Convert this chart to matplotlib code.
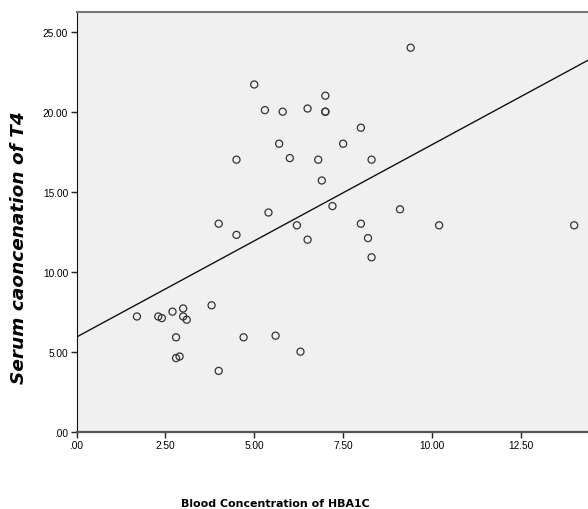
import numpy as np
import matplotlib
matplotlib.use("Agg")
import matplotlib.pyplot as plt

# HbA1c (x) and serum T4 (y)
hba1c = [1.7, 2.3, 2.4, 2.7, 3.0, 3.0, 3.1, 2.8, 2.8, 2.9, 3.8, 4.0, 4.7, 5.6, 6.3,
         4.0, 4.5, 4.5, 5.0, 5.3, 5.8, 5.7, 6.0, 5.4, 6.2, 6.5, 7.0, 7.0, 7.0, 6.8,
         7.5, 8.0, 8.3, 6.9, 9.4, 7.2, 9.1, 6.5, 8.0, 8.2, 8.3, 10.2, 14.0]
t4 = [7.2, 7.2, 7.1, 7.5, 7.7, 7.2, 7.0, 5.9, 4.6, 4.7, 7.9, 3.8, 5.9, 6.0, 5.0,
      13.0, 12.3, 17.0, 21.7, 20.1, 20.0, 18.0, 17.1, 13.7, 12.9, 20.2, 21.0, 20.0, 20.0, 17.0,
      18.0, 19.0, 17.0, 15.7, 24.0, 14.1, 13.9, 12.0, 13.0, 12.1, 10.9, 12.9, 12.9]
xticks = [0, 2.5, 5, 7.5, 10, 12.5]
yticks = [0, 5, 10, 15, 20, 25]

fig = plt.figure(figsize=(5.88, 5.10), dpi=100)
ax = fig.add_axes([76.5 / 588, 1 - 432.7 / 510, 1 - 76.5 / 588, (432.7 - 12.7) / 510])
ax.set_facecolor("#f0f0f0")

ax.scatter(hba1c, t4, s=26, facecolors="none", edgecolors="#333333", linewidths=0.9, zorder=3)

# linear fit line
slope, icpt = np.polyfit(hba1c, t4, 1)
xs = np.array([0, 15])
ax.plot(xs, icpt + slope * xs, color="#111111", lw=1.0, zorder=2)

ax.set_xlim(0, (588 - 76.5) / 35.55)
ax.set_ylim(0, (432.7 - 12.7) / 16)
ax.set_xticks(xticks)
ax.set_yticks(yticks)
ax.set_xticklabels([".00" if v == 0 else "%.2f" % v for v in xticks], family="Liberation Sans", fontsize=7.3)
ax.set_yticklabels([".00" if v == 0 else "%.2f" % v for v in yticks], family="Liberation Sans", fontsize=7.3)
ax.tick_params(direction="out", length=4, width=1, color="#222222", pad=2)

ax.spines["right"].set_visible(False)
ax.spines["top"].set_color("#777777")
ax.spines["top"].set_linewidth(1.5)
ax.spines["left"].set_color("#111111")
ax.spines["bottom"].set_color("#555555")
ax.spines["bottom"].set_linewidth(1.6)

fig.text(19.5 / 588, 1 - 247.5 / 510, "Serum caoncenation of T4", rotation=90, ha="center", va="center",
         family="DejaVu Sans", fontweight="bold", style="italic", fontsize=13.3)
fig.text(275 / 588, 1 - 504 / 510, "Blood Concentration of HBA1C", ha="center", va="center",
         family="DejaVu Sans", fontweight="bold", fontsize=7.9)

fig.savefig("out.png", dpi=100)
